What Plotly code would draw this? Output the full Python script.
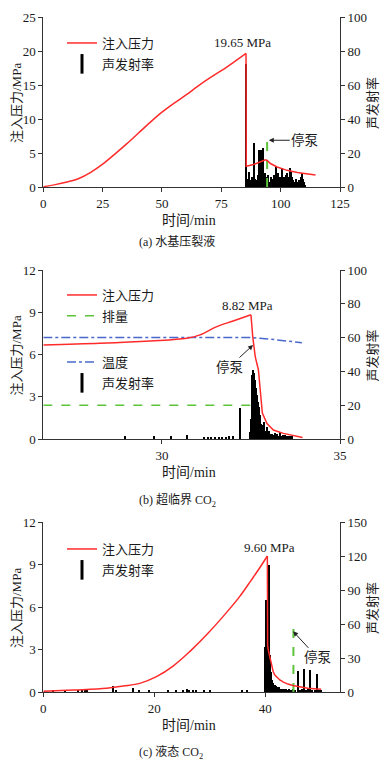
import plotly.graph_objects as go

# ---------------- data ----------------
# (a) water-based fracturing fluid
A_RISE_T = [0, 5, 10, 15, 20, 25, 30, 35, 40, 45, 50, 55, 60, 65, 70, 75, 80, 85.4]
A_RISE_P = [0.05, 0.35, 0.74, 1.25, 2.15, 3.35, 4.8, 6.3, 7.9, 9.5, 11.0, 12.3, 13.5, 14.8, 16.0, 17.1, 18.3, 19.65]
A_FALL_T = [85.4, 85.5, 88.6, 91.4, 93.6, 94.3, 95.7, 98.5, 102.7, 107, 109.8, 114.7]
A_FALL_P = [19.65, 3.05, 3.3, 3.68, 4.0, 3.9, 3.45, 2.95, 2.45, 2.12, 1.97, 1.75]
A_AE_T = [85.4, 86.0, 86.5, 87.0, 87.5, 88.0, 88.5, 89.0, 89.5, 90.0, 90.5, 91.0, 91.5, 92.0, 92.5,
          93.0, 93.5, 94.0, 94.5, 95.0, 95.5, 96.0, 96.5, 97.0, 97.5, 98.0, 98.5, 99.0, 99.5, 100.0,
          100.5, 101.0, 101.5, 102.0, 102.5, 103.0, 103.5, 104.0, 104.5, 105.0, 105.5, 106.0, 106.5,
          107.0, 107.5, 108.0, 108.5, 109.0, 109.5, 110.0, 110.5]
A_AE_V = [72.5, 5, 3, 9, 4, 6, 3, 26, 5, 4, 7, 22, 6, 22, 23,
          5, 8, 4, 6, 7, 3, 6, 4, 5, 7, 12, 4, 8, 5, 6,
          11, 4, 6, 5, 7, 8, 6, 11, 9, 6, 4, 3, 5,
          2, 3, 4, 6, 8, 5, 3, 1]
A_STOP_T = [94.3, 94.3]
A_STOP_V = [0, 31]

# (b) supercritical CO2
B_RISE_T = [26.67, 28.26, 29.67, 30.7, 31.07, 31.54, 32.0, 32.5]
B_RISE_P = [6.68, 6.8, 6.96, 7.15, 7.39, 7.98, 8.38, 8.82]
B_FALL_T = [32.5, 32.55, 32.62, 32.71, 32.76, 32.82, 32.95, 33.13, 33.41, 33.69, 33.88, 33.95]
B_FALL_P = [8.82, 7.27, 5.85, 4.9, 3.5, 1.85, 1.1, 0.64, 0.4, 0.24, 0.12, 0.1]
B_Q_T = [26.67, 32.55]
B_Q_V = [20, 20]
B_TEMP_T = [26.67, 32.5, 33.0, 33.5, 33.93]
B_TEMP_V = [60, 60, 59.2, 58, 57]
B_AE_T = [28.98, 29.8, 30.27, 30.72, 31.2, 31.3, 31.4, 31.5, 31.6, 31.7, 31.8, 31.9, 32.0, 32.21,
          32.475, 32.5, 32.525, 32.55, 32.575, 32.6, 32.625, 32.65, 32.675, 32.7, 32.725, 32.75,
          32.775, 32.8, 32.825, 32.85, 32.875, 32.9, 32.925, 32.95, 32.975, 33.0, 33.025, 33.05,
          33.075, 33.1, 33.125, 33.15, 33.175, 33.2, 33.225, 33.25, 33.275, 33.3, 33.325, 33.35,
          33.375, 33.4, 33.425, 33.45, 33.475, 33.5, 33.525, 33.55, 33.575, 33.6, 33.625, 33.65, 33.675]
B_AE_V = [2, 1.5, 1.5, 2.2, 1, 1, 1, 1.2, 1, 1, 1.2, 2, 1.5, 18.5,
          4, 12, 30, 38, 41, 39, 35, 30, 26, 22, 19, 14,
          12, 9, 8, 6, 10, 5, 4, 7, 4, 3, 5, 3,
          2.5, 3, 2, 2.5, 3.5, 2, 2, 3, 1.5, 2, 4, 1.5,
          2, 2.5, 1.5, 2, 2.5, 2, 1.5, 2, 1.5, 2, 1, 1.5, 1]

# (c) liquid CO2
C_RISE_T = [0, 5.4, 11.4, 14.4, 17.4, 20.4, 23.4, 26.4, 29.4, 32.4, 35.4, 37.5, 39.0, 40.4]
C_RISE_P = [0.05, 0.14, 0.26, 0.42, 0.61, 1.08, 1.83, 2.85, 4.02, 5.32, 6.73, 7.9, 8.75, 9.6]
C_FALL_T = [40.4, 40.45, 40.6, 40.85, 41.15, 41.45, 41.75, 42.2, 42.65, 43.3, 44.1, 45.0, 45.9, 47.7, 50.1]
C_FALL_P = [9.6, 3.3, 2.9, 2.4, 1.79, 1.45, 1.2, 1.0, 0.85, 0.7, 0.56, 0.46, 0.38, 0.26, 0.2]
C_AE_T = [1.9, 4.0, 6.3, 7.0, 7.5, 8.0, 12.7, 13.2, 16.2, 17.4, 19.2, 22.5, 24.0, 25.2, 25.9, 26.4,
          27.0, 27.6, 29.0, 30.2, 35.9, 36.8,
          40.1, 40.3, 40.5, 40.7, 40.9, 41.1, 41.3, 41.5, 41.8, 42.0, 42.3, 42.6, 42.9, 43.2, 43.5,
          43.8, 44.1, 44.4, 44.7, 45.0, 45.4, 45.95, 46.3, 46.7, 47.15, 47.5, 47.8, 48.2, 48.6,
          49.0, 49.4, 49.8, 50.2]
C_AE_V = [1.5, 1, 2, 1.5, 2, 1.5, 5, 1.5, 3.8, 1.5, 1.5, 1.5, 2, 2, 2.5, 1.5,
          2, 1.5, 1.5, 1.5, 1.5, 1.5,
          40, 81, 112, 112, 33, 18, 11, 8, 6, 5, 4, 4, 3, 3, 2.5,
          3, 2, 2.5, 2, 3, 2, 18.5, 2, 3, 20, 2, 2.5, 19, 2,
          2, 16, 2, 1.5]
C_STOP_T = [45.1, 45.1]
C_STOP_V = [0, 59]

# ---------------- styling ----------------
OFF = 8                    # page body margin
W, H = 390 - 2 * OFF, 765 - OFF
FONT = "'Liberation Serif', 'Times New Roman', 'Noto Sans CJK SC', serif"
TXT = "#1a1a1a"
AX = "#333333"
RED = "#ff2b2b"
GREEN = "#5cc43a"
BLUE = "#4a68cc"


def px(x):
    return (x - OFF) / W


def py(y):
    return 1 - (y - OFF) / H


fig = go.Figure()
BAR_LEG = dict(symbol="line-ns", size=14, line=dict(width=3, color="black"))

# ---- panel a ----
fig.add_trace(go.Bar(x=A_AE_T, y=A_AE_V, width=0.45, marker=dict(color="black", line_width=0),
                     xaxis="x", yaxis="y2", showlegend=False))
fig.add_trace(go.Scatter(x=A_STOP_T, y=A_STOP_V, mode="lines", line=dict(color=GREEN, dash="dash", width=2),
                         xaxis="x", yaxis="y2", showlegend=False))
fig.add_trace(go.Scatter(x=A_RISE_T, y=A_RISE_P, mode="lines", line=dict(color=RED, width=1.5, shape="spline"),
                         name="注入压力", legend="legend", legendgroup="a1", xaxis="x", yaxis="y"))
fig.add_trace(go.Scatter(x=A_FALL_T, y=A_FALL_P, mode="lines", line=dict(color=RED, width=1.5),
                         showlegend=False, legendgroup="a1", xaxis="x", yaxis="y"))
fig.add_trace(go.Scatter(x=[None], y=[None], mode="markers", name="声发射率", legend="legend", legendgroup="a2",
                         marker=BAR_LEG, xaxis="x", yaxis="y2"))

# ---- panel b ----
fig.add_trace(go.Bar(x=B_AE_T, y=B_AE_V, width=0.03, marker=dict(color="black", line_width=0),
                     xaxis="x2", yaxis="y4", showlegend=False))
fig.add_trace(go.Scatter(x=B_RISE_T, y=B_RISE_P, mode="lines", line=dict(color=RED, width=1.5, shape="spline"),
                         name="注入压力", legend="legend2", legendgroup="b1", xaxis="x2", yaxis="y3"))
fig.add_trace(go.Scatter(x=B_FALL_T, y=B_FALL_P, mode="lines", line=dict(color=RED, width=1.5),
                         showlegend=False, legendgroup="b1", xaxis="x2", yaxis="y3"))
fig.add_trace(go.Scatter(x=B_Q_T, y=B_Q_V, mode="lines", line=dict(color=GREEN, dash="dash", width=1.5),
                         name="排量", legend="legend2", legendgroup="b2", xaxis="x2", yaxis="y4"))
fig.add_trace(go.Scatter(x=B_TEMP_T, y=B_TEMP_V, mode="lines", line=dict(color=BLUE, dash="dashdot", width=1.5),
                         name="温度", legend="legend3", legendgroup="b3", xaxis="x2", yaxis="y4"))
fig.add_trace(go.Scatter(x=[None], y=[None], mode="markers", name="声发射率", legend="legend3", legendgroup="b4",
                         marker=BAR_LEG, xaxis="x2", yaxis="y4"))

# ---- panel c ----
fig.add_trace(go.Bar(x=C_AE_T, y=C_AE_V, width=0.2, marker=dict(color="black", line_width=0),
                     xaxis="x3", yaxis="y6", showlegend=False))
fig.add_trace(go.Scatter(x=C_STOP_T, y=C_STOP_V, mode="lines", line=dict(color=GREEN, dash="dash", width=2),
                         xaxis="x3", yaxis="y6", showlegend=False))
fig.add_trace(go.Scatter(x=C_RISE_T, y=C_RISE_P, mode="lines", line=dict(color=RED, width=1.5, shape="spline"),
                         name="注入压力", legend="legend4", legendgroup="c1", xaxis="x3", yaxis="y5"))
fig.add_trace(go.Scatter(x=C_FALL_T, y=C_FALL_P, mode="lines", line=dict(color=RED, width=1.5),
                         showlegend=False, legendgroup="c1", xaxis="x3", yaxis="y5"))
fig.add_trace(go.Scatter(x=[None], y=[None], mode="markers", name="声发射率", legend="legend4", legendgroup="c2",
                         marker=BAR_LEG, xaxis="x3", yaxis="y6"))

XD = [px(43.3), px(340)]
panels = {
    "a": (17, 187),
    "b": (270, 439),
    "c": (522, 692),
}


def dom(top, bot):
    return [py(bot), py(top)]


tick_font = dict(family=FONT, size=13, color=TXT)
axis_common = dict(showline=True, linecolor=AX, linewidth=1, ticks="outside", ticklen=4, tickwidth=1,
                   tickcolor=AX, showgrid=False, zeroline=False, tickfont=tick_font, automargin=False)

layout = dict(
    width=W, height=H, margin=dict(l=0, r=0, t=0, b=0),
    paper_bgcolor="white", plot_bgcolor="white", showlegend=True,
    font=dict(family=FONT, size=13, color=TXT), bargap=0,
)

# a
layout["xaxis"] = dict(domain=XD, anchor="y2", range=[0, 125], tickvals=[0, 25, 50, 75, 100, 125], **axis_common)
layout["yaxis2"] = dict(domain=dom(*panels["a"]), anchor="x", side="right", range=[0, 100],
                        tickvals=[0, 20, 40, 60, 80, 100], **axis_common)
layout["yaxis"] = dict(overlaying="y2", anchor="x", side="left", range=[0, 25],
                       tickvals=[0, 5, 10, 15, 20, 25], **axis_common)
# b
layout["xaxis2"] = dict(domain=XD, anchor="y4", range=[26.67, 35], tickvals=[30, 35], **axis_common)
layout["yaxis4"] = dict(domain=dom(*panels["b"]), anchor="x2", side="right", range=[0, 100],
                        tickvals=[0, 20, 40, 60, 80, 100], **axis_common)
layout["yaxis3"] = dict(overlaying="y4", anchor="x2", side="left", range=[0, 12],
                        tickvals=[0, 3, 6, 9, 12], **axis_common)
# c
layout["xaxis3"] = dict(domain=XD, anchor="y6", range=[0, 53.5], tickvals=[0, 20, 40], **axis_common)
layout["yaxis6"] = dict(domain=dom(*panels["c"]), anchor="x3", side="right", range=[0, 150],
                        tickvals=[0, 30, 60, 90, 120, 150], **axis_common)
layout["yaxis5"] = dict(overlaying="y6", anchor="x3", side="left", range=[0, 12],
                        tickvals=[0, 3, 6, 9, 12], **axis_common)

leg_common = dict(bgcolor="white", borderwidth=0, font=dict(family=FONT, size=13, color=TXT),
                  xanchor="left", yanchor="top", traceorder="grouped", tracegroupgap=1,
                  itemwidth=30)
layout["legend"] = dict(x=px(62), y=py(28), **leg_common)
layout["legend2"] = dict(x=px(62), y=py(280), **leg_common)
layout["legend3"] = dict(x=px(62), y=py(347), **leg_common)
layout["legend4"] = dict(x=px(62), y=py(534), **leg_common)

fig.update_layout(**layout)

ann = []
title_font = dict(family=FONT, size=13, color=TXT)
C = dict(xanchor="center", yanchor="middle", showarrow=False, xref="paper", yref="paper")
for (top, bot), xt_y, cap_y, cap in [
    (panels["a"], 221, 242, "(a) 水基压裂液"),
    (panels["b"], 472, 500, "(b) 超临界 CO<sub>2</sub>"),
    (panels["c"], 725, 752, "(c) 液态 CO<sub>2</sub>"),
]:
    mid = (top + bot) / 2 + 1
    ann.append(dict(x=px(16), y=py(mid), text="注入压力/MPa", textangle=-90, font=title_font, **C))
    ann.append(dict(x=px(372), y=py(mid), text="声发射率", textangle=-90, font=title_font, **C))
    ann.append(dict(x=px(189), y=py(xt_y), text="时间/min", font=dict(family=FONT, size=14, color=TXT), **C))
    ann.append(dict(x=px(137), y=py(cap_y), text=cap, xref="paper", yref="paper", xanchor="left",
                    yanchor="middle", showarrow=False, font=dict(family=FONT, size=12, color=TXT)))

# peak labels
PK = dict(family=FONT, size=13, color=TXT)
ann.append(dict(x=px(243), y=py(43), text="19.65 MPa", font=PK, **C))
ann.append(dict(x=px(247), y=py(305), text="8.82 MPa", font=PK, **C))
ann.append(dict(x=px(269), y=py(547), text="9.60 MPa", font=PK, **C))

# pump-stop arrows
arrow = dict(showarrow=True, arrowhead=2, arrowsize=1, arrowwidth=1, arrowcolor="#222",
             font=dict(family=FONT, size=13.5, color=TXT))
ann.append(dict(x=95.0, y=27.5, xref="x", yref="y2", text="停泵", ax=36, ay=0, **arrow))
ann.append(dict(x=32.56, y=55.6, xref="x2", yref="y4", text="停泵", ax=-24, ay=22, **arrow))
ann.append(dict(x=45.05, y=53.5, xref="x3", yref="y6", text="停泵", ax=24, ay=26, **arrow))

fig.update_layout(annotations=ann)
fig.write_html("out.html")
